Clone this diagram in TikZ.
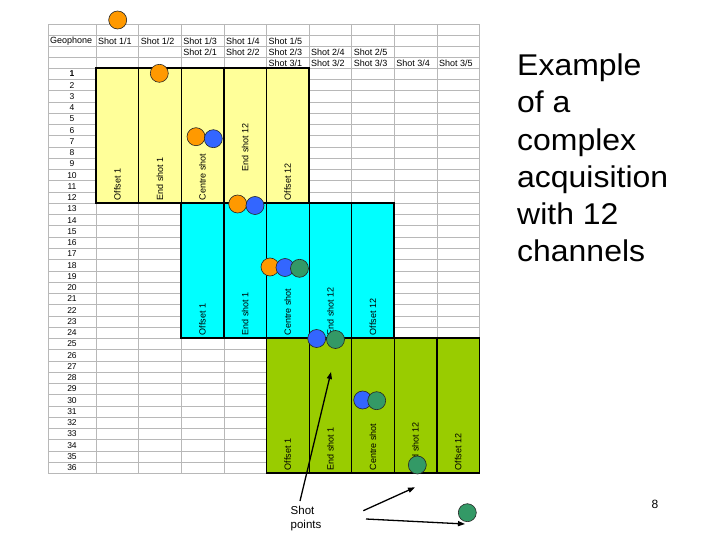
\documentclass[tikz,border=0pt]{standalone}
\usepackage{fontspec}
\setmainfont{Liberation Sans}
\usetikzlibrary{arrows.meta, positioning}

\definecolor{cellyellow}{HTML}{FFFF99}
\definecolor{cellcyan}{HTML}{00FFFF}
\definecolor{cellgreen}{HTML}{99CC00}
\definecolor{shotorange}{HTML}{FF9900}
\definecolor{shotblue}{HTML}{3366FF}
\definecolor{shotgreen}{HTML}{339966}

\begin{document}
\begin{tikzpicture}[x=1pt, y=-1pt,
    grid/.style={draw=black!28, line width=0.6pt},
    cell/.style={font=\fontsize{9}{10}\selectfont, inner sep=1pt, anchor=west},
    rownum/.style={font=\fontsize{8.5}{9}\selectfont, inner sep=0pt},
    collabel/.style={font=\fontsize{9}{10}\selectfont, rotate=90, anchor=west, inner sep=1.5pt},
    blockline/.style={draw=black, line width=1.7pt},
    thinline/.style={draw=black, line width=0.8pt},
    shot/.style={circle, draw=black!85, line width=0.6pt, minimum size=18pt, inner sep=0pt},
    arrow/.style={-{Triangle[length=7pt, width=5pt]}, line width=1.3pt}
]
    \useasboundingbox (0,0) rectangle (720,540);

    % spreadsheet grid
    \draw[grid] (48,24.3) -- (48,473.3);
    \foreach \i in {0,...,9}
        \draw[grid] ({96+\i*42.6},24.3) -- ({96+\i*42.6},473.3);
    \foreach \j in {0,...,4}
        \draw[grid] (48,{24.3+\j*11}) -- (479.4,{24.3+\j*11});
    \foreach \j in {1,...,36}
        \draw[grid] (48,{68.3+\j*11.25}) -- (479.4,{68.3+\j*11.25});

    % header
    \node[cell] (geo) at (49,40.8) {Geophone};
    \foreach \k in {1,...,5} {
        \node[cell] (s1\k) at ({97+(\k-1)*42.6},40.8) {Shot 1/\k};
        \node[cell] (s2\k) at ({182.2+(\k-1)*42.6},51.8) {Shot 2/\k};
        \node[cell] (s3\k) at ({267.4+(\k-1)*42.6},62.8) {Shot 3/\k};
    }
    \foreach \j in {1,...,36}
        \node[rownum] (r\j) at (72,{68.3+(\j-0.5)*11.25}) {\ifnum\j=1 \bfseries\fi\j};

    % the three shot blocks
    \fill[cellyellow] (96,68.3) rectangle (309,203.3);
    \fill[cellcyan] (181.2,203.3) rectangle (394.2,338.3);
    \fill[cellgreen] (266.4,338.3) rectangle (479.4,473.3);

    \draw[blockline] (138.6,68.3) -- (138.6,203.3);
    \draw[blockline] (223.8,68.3) -- (223.8,203.3);
    \draw[thinline] (181.2,68.3) -- (181.2,203.3);
    \draw[thinline] (266.4,68.3) -- (266.4,203.3);

    \draw[blockline] (223.8,203.3) -- (223.8,338.3);
    \draw[blockline] (351.6,203.3) -- (351.6,338.3);
    \draw[thinline] (266.4,203.3) -- (266.4,338.3);
    \draw[thinline] (309,203.3) -- (309,338.3);

    \draw[blockline] (351.6,338.3) -- (351.6,473.3);
    \draw[blockline] (436.8,338.3) -- (436.8,473.3);
    \draw[thinline] (309,338.3) -- (309,473.3);
    \draw[thinline] (394.2,338.3) -- (394.2,473.3);

    \draw[blockline] (96,68.3) rectangle (309,203.3);
    \draw[blockline] (181.2,203.3) rectangle (394.2,338.3);
    \draw[blockline] (266.4,338.3) rectangle (479.4,473.3);

    % column labels
    \node[collabel] (yoff1) at (117.3,202) {Offset 1};
    \node[collabel] (yend1) at (159.9,202) {End shot 1};
    \node[collabel] (ycen) at (202.5,202) {Centre shot};
    \node[collabel] (yend12) at (245.1,173) {End shot 12};
    \node[collabel] (yoff12) at (287.7,202) {Offset 12};

    \node[collabel] (coff1) at (202.5,337) {Offset 1};
    \node[collabel] (cend1) at (245.1,337) {End shot 1};
    \node[collabel] (ccen) at (287.7,337) {Centre shot};
    \node[collabel] (cend12) at (330.3,337) {End shot 12};
    \node[collabel] (coff12) at (372.9,337) {Offset 12};

    \node[collabel] (goff1) at (287.7,472) {Offset 1};
    \node[collabel] (gend1) at (330.3,472) {End shot 1};
    \node[collabel] (gcen) at (372.9,472) {Centre shot};
    \node[collabel] (gend12) at (415.5,472) {End shot 12};
    \node[collabel] (goff12) at (458.1,472) {Offset 12};

    % shot points
    \node[shot, fill=shotorange] (o1) at (117.7,20) {};
    \node[shot, fill=shotorange] (o2) at (159.3,73.3) {};
    \node[shot, fill=shotorange] (o3) at (196,136.7) {};
    \node[shot, fill=shotblue] (b3) at (213.3,138.7) {};
    \node[shot, fill=shotorange] (o4) at (237.7,204) {};
    \node[shot, fill=shotblue] (b4) at (255,205.5) {};
    \node[shot, fill=shotorange] (o5) at (270,267) {};
    \node[shot, fill=shotblue] (b5) at (285,267.5) {};
    \node[shot, fill=shotgreen] (g5) at (299.5,268.3) {};
    \node[shot, fill=shotblue] (b6) at (316.7,338.5) {};
    \node[shot, fill=shotgreen] (g6) at (335.5,339.5) {};
    \node[shot, fill=shotblue] (b7) at (362.7,400) {};
    \node[shot, fill=shotgreen] (g7) at (376.7,400.7) {};
    \node[shot, fill=shotgreen] (g8) at (417.3,465) {};
    \node[shot, fill=shotgreen] (g9) at (467.3,512.7) {};

    % callout
    \node[font=\fontsize{11.5}{13.5}\selectfont, align=left, anchor=north west, inner sep=0pt] (sp) at (290.5,506) {Shot\\points};
    \coordinate (a1) at (300,501);
    \coordinate (t1) at (331,372);
    \coordinate (a2) at (363.3,510.7);
    \coordinate (t2) at (415,487.3);
    \coordinate (a3) at (366,519);
    \coordinate (t3) at (465,524);
    \draw[arrow] (a1) -- (t1);
    \draw[arrow] (a2) -- (t2);
    \draw[arrow] (a3) -- (t3);

    \node[font=\fontsize{30}{37.3}\selectfont, align=left, anchor=north west, inner sep=0pt, xscale=1.065] (title) at (517,53.5)
        {Example\\of a\\complex\\acquisition\\with 12\\channels};
    \node[font=\fontsize{12}{14}\selectfont, inner sep=0pt] (pnum) at (655,504) {8};
\end{tikzpicture}
\end{document}
